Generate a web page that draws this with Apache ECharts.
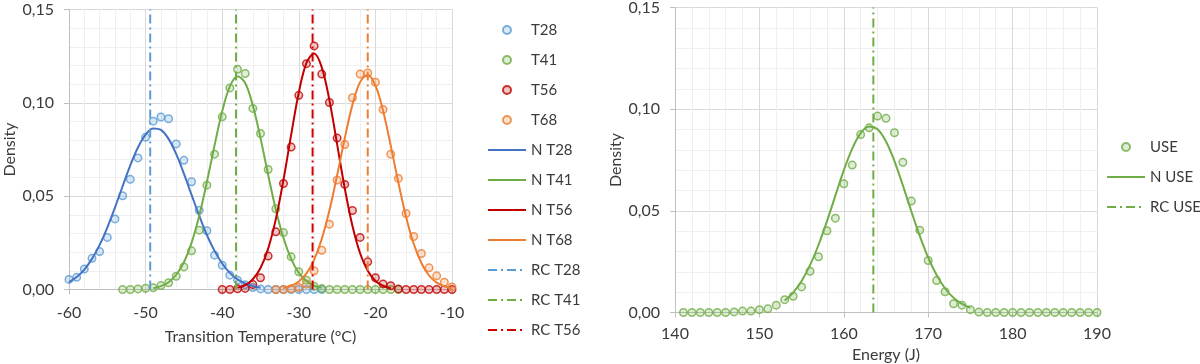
<!DOCTYPE html>
<html><head><meta charset="utf-8">
<script src="https://cdn.jsdelivr.net/npm/echarts@6/dist/echarts.min.js"></script>
<style>html,body{margin:0;padding:0;background:#fff}#c{width:1200px;height:364px}</style>
</head><body><div id="c"></div>
<script>
const FONT = 'Lato, "Open Sans", sans-serif';
const TXT = '#3a3a3a';

// ---- Left chart: transition temperature ----
const leftXTicks = ['-60', '-50', '-40', '-30', '-20', '-10'];
const yTicks = ['0,00', '0,05', '0,10', '0,15'];

const T28 = [[-60,0.0054],[-59,0.0065],[-58,0.011],[-57,0.0167],[-56,0.0203],[-55,0.0279],[-54,0.0378],[-53,0.0502],[-52,0.059],[-51,0.0705],[-50,0.0815],[-49,0.0902],[-48,0.0924],[-47,0.0915],[-46,0.078],[-45,0.0692],[-44,0.0577],[-43,0.0424],[-42,0.0315],[-41,0.0184],[-40,0.013],[-39,0.0077],[-38,0.005],[-37,0.0026],[-36,0.0011],[-35,0.0003],[-34,0],[-33,0],[-32,0],[-31,0],[-30,0],[-29,0],[-28,0],[-27,0]];
const T41 = [[-53,0],[-52,0],[-51,0.0003],[-50,0.0007],[-49,0.0009],[-48,0.0021],[-47,0.0036],[-46,0.0071],[-45,0.0121],[-44,0.0207],[-43,0.0318],[-42,0.0559],[-41,0.0725],[-40,0.0925],[-39,0.108],[-38,0.118],[-37,0.1157],[-36,0.097],[-35,0.0836],[-34,0.0643],[-33,0.0432],[-32,0.0305],[-31,0.0175],[-30,0.0095],[-29,0.005],[-28,0.0018],[-27,0.0005],[-26,0],[-25,0],[-24,0],[-23,0],[-22,0],[-21,0],[-20,0],[-19,0],[-18,0],[-17,0]];
const T56 = [[-40,0],[-39,0],[-38,0.0004],[-37,0.0006],[-36,0.0027],[-35,0.0063],[-34,0.0179],[-33,0.0309],[-32,0.0568],[-31,0.0763],[-30,0.104],[-29,0.121],[-28,0.1305],[-27,0.1154],[-26,0.1002],[-25,0.0811],[-24,0.0563],[-23,0.0423],[-22,0.0279],[-21,0.0148],[-20,0.0063],[-19,0.003],[-18,0.002],[-17,0.0003],[-16,0],[-15,0],[-14,0],[-13,0],[-12,0],[-11,0],[-10,0]];
const T68 = [[-33,0],[-32,0],[-31,0.0004],[-30,0.0011],[-29,0.0029],[-28,0.01],[-27,0.021],[-26,0.035],[-25,0.0586],[-24,0.0777],[-23,0.1027],[-22,0.1154],[-21,0.116],[-20,0.111],[-19,0.0964],[-18,0.0725],[-17,0.0595],[-16,0.0407],[-15,0.0284],[-14,0.0193],[-13,0.0116],[-12,0.0073],[-11,0.0039],[-10,0.0014]];

const N_T28 = [[-60,0.0040],[-59,0.0067],[-58,0.0107],[-57,0.0164],[-56,0.0239],[-55,0.0332],[-54,0.0439],[-53,0.0553],[-52,0.0665],[-51,0.0761],[-50,0.0830],[-49,0.0863],[-48,0.0855],[-47,0.0807],[-46,0.0725],[-45,0.0621],[-44,0.0507],[-43,0.0395],[-42,0.0292],[-41,0.0207],[-40,0.0139],[-39,0.0089],[-38,0.0054],[-37,0.0032],[-36,0.0018],[-35,0.0009]];
const N_T41 = [[-49,0.0007],[-48,0.0018],[-47,0.0039],[-46,0.0079],[-45,0.0146],[-44,0.0250],[-43,0.0395],[-42,0.0576],[-41,0.0772],[-40,0.0955],[-39,0.1088],[-38,0.1143],[-37,0.1106],[-36,0.0986],[-35,0.0811],[-34,0.0614],[-33,0.0429],[-32,0.0276],[-31,0.0164],[-30,0.0089],[-29,0.0045],[-28,0.0021],[-27,0.0009]];
const N_T56 = [[-38,0.0009],[-37,0.0023],[-36,0.0055],[-35,0.0115],[-34,0.0219],[-33,0.0377],[-32,0.0588],[-31,0.0828],[-30,0.1055],[-29,0.1214],[-28,0.1264],[-27,0.1190],[-26,0.1013],[-25,0.0779],[-24,0.0542],[-23,0.0341],[-22,0.0194],[-21,0.0100],[-20,0.0046],[-19,0.0020],[-18,0.0007]];
const N_T68 = [[-32,0.0008],[-31,0.0020],[-30,0.0043],[-29,0.0086],[-28,0.0159],[-27,0.0271],[-26,0.0424],[-25,0.0611],[-24,0.0810],[-23,0.0989],[-22,0.1111],[-21,0.1149],[-20,0.1093],[-19,0.0957],[-18,0.0771],[-17,0.0572],[-16,0.0390],[-15,0.0245],[-14,0.0142],[-13,0.0075],[-12,0.0037],[-11,0.0017],[-10,0.0007]];

const RC_T28 = -49.4;
const RC_T41 = -38.2;
const RC_T56 = -28.2;
const RC_T68 = -21.0;

// ---- Right chart: energy ----
const rightXTicks = ['140', '150', '160', '170', '180', '190'];
const USE = [[141,0],[142,0],[143,0],[144,0],[145,0],[146,0],[147,0.0003],[148,0.0007],[149,0.0007],[150,0.0014],[151,0.0018],[152,0.0036],[153,0.0063],[154,0.008],[155,0.0126],[156,0.0203],[157,0.0274],[158,0.0402],[159,0.0464],[160,0.0633],[161,0.0725],[162,0.0875],[163,0.0908],[164,0.0966],[165,0.0955],[166,0.0884],[167,0.0739],[168,0.0548],[169,0.0405],[170,0.0256],[171,0.0157],[172,0.0102],[173,0.0043],[174,0.0036],[175,0.0014],[176,0.0002],[177,0],[178,0],[179,0],[180,0],[181,0],[182,0],[183,0],[184,0],[185,0],[186,0],[187,0],[188,0],[189,0],[190,0]];
const N_USE = [[153,0.0059],[154,0.0098],[155,0.0155],[156,0.0233],[157,0.0332],[158,0.0448],[159,0.0575],[160,0.0699],[161,0.0806],[162,0.0882],[163,0.0915],[164,0.0901],[165,0.0841],[166,0.0745],[167,0.0625],[168,0.0498],[169,0.0377],[170,0.0270],[171,0.0184],[172,0.0118],[173,0.0072],[174,0.0042],[175,0.0023]];
const RC_USE = 163.5;
const Y_TOP = 0.15;

const C_BLUE = '#5B9BD5', C_BLUE_D = '#4472C4', C_GREEN = '#70AD47', C_RED = '#C00000', C_ORANGE = '#ED7D31';
const DASHDOT = [9, 4, 2, 4];

function fill(hex) {
  const r = parseInt(hex.slice(1,3),16), g = parseInt(hex.slice(3,5),16), b = parseInt(hex.slice(5,7),16);
  return 'rgba(' + r + ',' + g + ',' + b + ',0.28)';
}
function scatter(name, data, color, axisIdx) {
  return { name, type: 'scatter', xAxisIndex: axisIdx, yAxisIndex: axisIdx, data, symbol: 'circle', symbolSize: 7.5,
    itemStyle: { color: fill(color), borderColor: color, borderWidth: 1.5 }, z: 3 };
}
function curve(name, data, color, axisIdx) {
  return { name, type: 'line', xAxisIndex: axisIdx, yAxisIndex: axisIdx, data, smooth: 0.35,
    symbol: 'none', lineStyle: { color, width: 2 }, itemStyle: { color, opacity: 0 }, z: 4 };
}
function rcLine(name, x, color, axisIdx) {
  return { name, type: 'line', xAxisIndex: axisIdx, yAxisIndex: axisIdx, data: [[x, 0], [x, Y_TOP]],
    symbol: 'none', lineStyle: { color, width: 2, type: DASHDOT }, itemStyle: { color, opacity: 0 }, z: 5 };
}
function xAxis(gi, min, max, labels, name, margin, nameGap) {
  return { type: 'value', gridIndex: gi, min, max, interval: 10, name, nameLocation: 'middle', nameGap,
    nameTextStyle: { fontFamily: FONT, fontSize: 16, color: TXT },
    axisLine: { show: true, onZero: false, lineStyle: { color: '#bfbfbf', width: 1 } },
    axisTick: { show: true, length: 5, lineStyle: { color: '#bfbfbf' } },
    axisLabel: { margin, fontFamily: FONT, fontSize: 16, color: TXT, formatter: v => labels[Math.round((v - min) / 10)] },
    splitLine: { show: true, lineStyle: { color: '#d9d9d9', width: 1 } },
    minorTick: { show: false, splitNumber: 5 },
    minorSplitLine: { show: true, lineStyle: { color: '#efefef', width: 1 } } };
}
function yAxis(gi, nameGap) {
  return { type: 'value', gridIndex: gi, min: 0, max: Y_TOP, interval: 0.05, name: 'Density', nameLocation: 'middle', nameGap,
    nameTextStyle: { fontFamily: FONT, fontSize: 16, color: TXT },
    axisLine: { show: true, lineStyle: { color: '#bfbfbf', width: 1 } },
    axisTick: { show: true, length: 5, lineStyle: { color: '#bfbfbf' } },
    axisLabel: { margin: 15, fontFamily: FONT, fontSize: 16, color: TXT, formatter: v => yTicks[Math.round(v / 0.05)] },
    splitLine: { show: true, lineStyle: { color: '#d9d9d9', width: 1 } },
    minorTick: { show: false, splitNumber: 5 },
    minorSplitLine: { show: true, lineStyle: { color: '#efefef', width: 1 } } };
}
const legendBase = { orient: 'vertical', itemWidth: 38, itemHeight: 8, itemGap: 10, padding: 0,
  textStyle: { fontFamily: FONT, fontSize: 15, color: TXT, lineHeight: 20 } };

const chart = echarts.init(document.getElementById('c'), null, { renderer: 'canvas' });
chart.setOption({
  animation: false,
  backgroundColor: '#fff',
  grid: [
    { left: 69, top: 9.5, width: 383, height: 280, outerBoundsMode: 'none' },
    { left: 675, top: 7.5, width: 422, height: 305, outerBoundsMode: 'none' }
  ],
  xAxis: [
    xAxis(0, -60, -10, leftXTicks, 'Transition Temperature (°C)', 15, 39),
    xAxis(1, 140, 190, rightXTicks, 'Energy (J)', 13, 33)
  ],
  yAxis: [yAxis(0, 51), yAxis(1, 51)],
  legend: [
    Object.assign({}, legendBase, { left: 487, top: 20,
      data: ['T28','T41','T56','T68','N T28','N T41','N T56','N T68','RC T28','RC T41','RC T56'] }),
    Object.assign({}, legendBase, { left: 1106, top: 137, data: ['USE','N USE','RC USE'] })
  ],
  series: [
    scatter('T28', T28, C_BLUE, 0),
    scatter('T41', T41, C_GREEN, 0),
    scatter('T56', T56, C_RED, 0),
    scatter('T68', T68, C_ORANGE, 0),
    curve('N T28', N_T28, C_BLUE_D, 0),
    curve('N T41', N_T41, C_GREEN, 0),
    curve('N T56', N_T56, C_RED, 0),
    curve('N T68', N_T68, C_ORANGE, 0),
    rcLine('RC T28', RC_T28, C_BLUE, 0),
    rcLine('RC T41', RC_T41, C_GREEN, 0),
    rcLine('RC T56', RC_T56, '#D00000', 0),
    rcLine('RC T68', RC_T68, C_ORANGE, 0),
    scatter('USE', USE, C_GREEN, 1),
    curve('N USE', N_USE, C_GREEN, 1),
    rcLine('RC USE', RC_USE, C_GREEN, 1)
  ]
});
</script>
</body></html>
